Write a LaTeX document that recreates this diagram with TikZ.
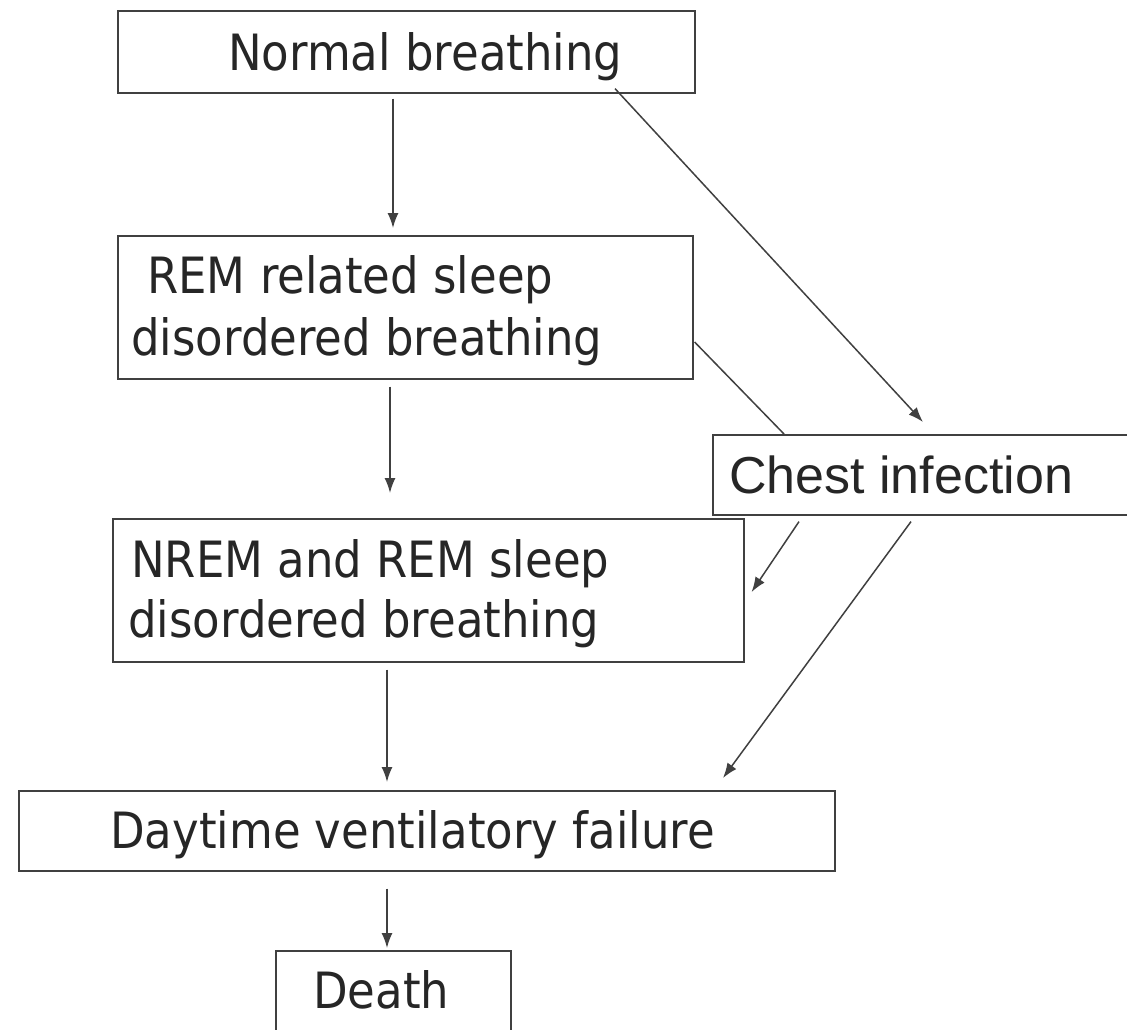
\documentclass[tikz,border=0pt]{standalone}
\usepackage{fontspec}
\setmainfont{DejaVu Sans}[FakeStretch=0.9]
\newfontfamily\arialf{Liberation Sans}
\usetikzlibrary{arrows.meta,calc}
\definecolor{lin}{HTML}{404040}
\definecolor{txt}{HTML}{262626}
\tikzset{
  box/.style={draw=lin, line width=1.6pt, inner sep=0pt, anchor=north west, fill=none},
  lbl/.style={anchor=base west, inner sep=0pt, text=txt, font=\fontsize{50}{60}\selectfont},
  arr/.style={draw=lin, line width=1.5pt, -{Latex[length=15pt,width=11pt]}},
  plain/.style={draw=lin, line width=1.5pt}
}
\begin{document}
\begin{tikzpicture}[x=1pt,y=-1pt]
\clip (0,0) rectangle (1127,1029);
\fill[white] (0,0) rectangle (1127,1029);
% boxes
\node[box, minimum width=577pt, minimum height=82pt] (normal) at (117,10) {};
\node[box, minimum width=575pt, minimum height=143pt] (rem) at (117,235) {};
\node[box, minimum width=430pt, minimum height=80pt] (chest) at (712,434) {};
\node[box, minimum width=631pt, minimum height=143pt] (nrem) at (112,518) {};
\node[box, minimum width=816pt, minimum height=80pt] (day) at (18,790) {};
\node[box, minimum width=235pt, minimum height=100pt] (death) at (275,950) {};
% texts
\node[lbl] (tnormal) at (228,70) {Normal breathing};
\node[lbl] (trem1) at (147,293) {REM related sleep};
\node[lbl] (trem2) at (131,355) {disordered breathing};
\node[lbl, font=\arialf\fontsize{52}{60}\selectfont] (tchest) at (729,493) {Chest infection};
\node[lbl] (tnrem1) at (131,577) {NREM and REM sleep};
\node[lbl] (tnrem2) at (128,637) {disordered breathing};
\node[lbl] (tday) at (110,848) {Daytime ventilatory failure};
\node[lbl] (tdeath) at (313,1008) {Death};
% connectors
\draw[arr] ($(normal.south west)+(276,5)$) -- ($(rem.north west)+(276,-7)$);
\draw[arr] ($(normal.south west)+(498,-5)$) -- ($(chest.north west)+(211,-12)$);
\draw[plain] ($(rem.north east)+(1,107)$) -- ($(chest.north west)+(72,0)$);
\draw[arr] ($(rem.south west)+(273,7)$) -- ($(nrem.north west)+(278,-25)$);
\draw[arr] ($(chest.south west)+(87,6)$) -- ($(nrem.north east)+(7,74)$);
\draw[arr] ($(chest.south west)+(199,6)$) -- ($(day.north west)+(705,-12)$);
\draw[arr] ($(nrem.south west)+(275,7)$) -- ($(day.north west)+(369,-8)$);
\draw[arr] ($(day.south west)+(369,17)$) -- ($(death.north west)+(112,-2)$);
\end{tikzpicture}
\end{document}
